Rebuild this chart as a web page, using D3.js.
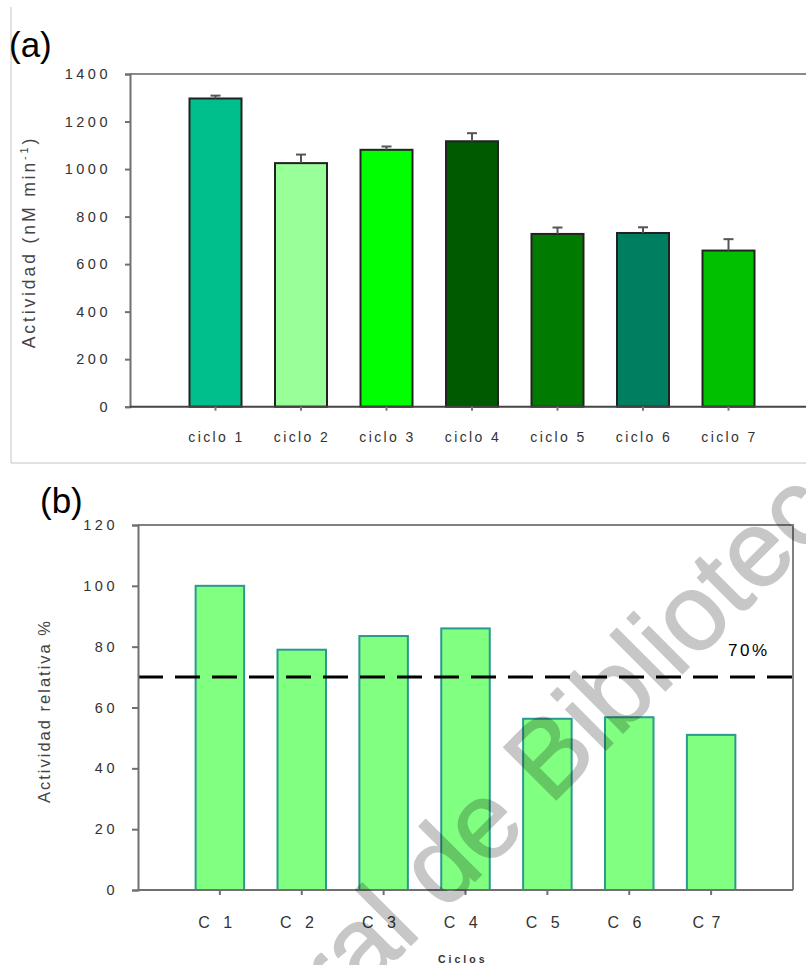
<!DOCTYPE html>
<html>
<head>
<meta charset="utf-8">
<script src="https://cdn.jsdelivr.net/npm/d3@7"></script>
<style>
  body { margin: 0; background: #fff; }
  svg { display: block; font-family: "Liberation Sans", Arial, sans-serif; }
</style>
</head>
<body>
<svg id="chart" width="806" height="965"></svg>
<script>
// Panel (a): absolute activity per reuse cycle, with standard deviation
const cycleLabels = ["ciclo 1", "ciclo 2", "ciclo 3", "ciclo 4", "ciclo 5", "ciclo 6", "ciclo 7"];
const activity = [1297, 1025, 1081, 1117, 727, 731, 657];
const activityErr = [12, 36, 14, 34, 27, 24, 48];
const barColors = ["#00bf8c", "#99ff99", "#00ff00", "#005a00", "#007a00", "#007f60", "#00c000"];
const activityTicks = [0, 200, 400, 600, 800, 1000, 1200, 1400];

// Panel (b): activity relative to the first cycle
const cycleShort = ["C  1", "C  2", "C  3", "C  4", "C  5", "C  6", "C 7"];
const relative = [100, 79, 83.5, 86, 56.3, 56.8, 51];
const relativeTicks = [0, 20, 40, 60, 80, 100, 120];
const threshold = 70;

const svg = d3.select("#chart");

// ---------- panel (a) ----------
const frameA = svg.append("g");
frameA.append("line").attr("x1", 11).attr("x2", 11).attr("y1", 7).attr("y2", 463)
  .attr("stroke", "#c4c4c4").attr("stroke-width", 1);
frameA.append("line").attr("x1", 11).attr("x2", 806).attr("y1", 463).attr("y2", 463)
  .attr("stroke", "#c4c4c4").attr("stroke-width", 1);

svg.append("text").attr("x", 9).attr("y", 57).attr("font-size", 35).attr("fill", "#000").text("(a)");

const xA = d3.scaleLinear().domain([0, 8]).range([130, 814]);
const yA = d3.scaleLinear().domain([0, 1400]).range([406.7, 74]);
const barWA = 52;

const gA = svg.append("g");
// top frame line
gA.append("line").attr("x1", 130).attr("x2", 806).attr("y1", yA(1400)).attr("y2", yA(1400))
  .attr("stroke", "#8a8a8a").attr("stroke-width", 2);

// bars
gA.selectAll("rect.bar").data(activity).join("rect")
  .attr("class", "bar")
  .attr("x", (d, i) => xA(i + 1) - barWA / 2)
  .attr("width", barWA)
  .attr("y", d => yA(d))
  .attr("height", d => yA(0) - yA(d))
  .attr("fill", (d, i) => barColors[i])
  .attr("stroke", "#222").attr("stroke-width", 2);

// error bars (upper half only)
const errG = gA.selectAll("g.err").data(activity).join("g").attr("class", "err");
errG.append("line")
  .attr("x1", (d, i) => xA(i + 1)).attr("x2", (d, i) => xA(i + 1))
  .attr("y1", d => yA(d)).attr("y2", (d, i) => yA(d + activityErr[i]))
  .attr("stroke", "#555").attr("stroke-width", 2);
errG.append("line")
  .attr("x1", (d, i) => xA(i + 1) - 5).attr("x2", (d, i) => xA(i + 1) + 5)
  .attr("y1", (d, i) => yA(d + activityErr[i])).attr("y2", (d, i) => yA(d + activityErr[i]))
  .attr("stroke", "#555").attr("stroke-width", 2);

// y axis
const axA = gA.append("g").attr("transform", "translate(130,0)")
  .call(d3.axisLeft(yA).tickValues(activityTicks).tickSize(5).tickPadding(14).tickFormat(d3.format("d")));
axA.select(".domain").attr("stroke", "#707070").attr("stroke-width", 2);
axA.selectAll(".tick line").attr("stroke", "#707070").attr("stroke-width", 2);
axA.selectAll(".tick text").attr("font-size", 14.5).attr("fill", "#333")
  .attr("letter-spacing", "3.5px").attr("font-family", "'Liberation Sans', Arial, sans-serif");

// x axis
gA.append("line").attr("x1", 130).attr("x2", 806).attr("y1", yA(0)).attr("y2", yA(0))
  .attr("stroke", "#444").attr("stroke-width", 2);
gA.selectAll("line.xtick").data(cycleLabels).join("line").attr("class", "xtick")
  .attr("x1", (d, i) => xA(i + 1)).attr("x2", (d, i) => xA(i + 1))
  .attr("y1", yA(0)).attr("y2", yA(0) + 4)
  .attr("stroke", "#777").attr("stroke-width", 2);
gA.selectAll("text.xlab").data(cycleLabels).join("text").attr("class", "xlab")
  .attr("x", (d, i) => xA(i + 1) + 1).attr("y", 442)
  .attr("text-anchor", "middle").attr("font-size", 14).attr("fill", "#333")
  .attr("letter-spacing", "2.4px").text(d => d);

// y title
const titleA = svg.append("text")
  .attr("transform", "translate(35,242) rotate(-90)")
  .attr("text-anchor", "middle").attr("font-size", 17.5).attr("fill", "#444")
  .attr("letter-spacing", "2.9px");
titleA.append("tspan").text("Actividad (nM min");
titleA.append("tspan").attr("dy", -7).attr("font-size", 11).text("-1");
titleA.append("tspan").attr("dy", 7).text(")");

// ---------- panel (b) ----------
svg.append("text").attr("x", 40).attr("y", 513).attr("font-size", 35).attr("fill", "#000").text("(b)");

const xB = d3.scaleLinear().domain([0, 8]).range([138, 793]);
const yB = d3.scaleLinear().domain([0, 120]).range([890, 525]);
const barWB = 48.5;

const gB = svg.append("g");

gB.selectAll("rect.bar").data(relative).join("rect")
  .attr("class", "bar")
  .attr("x", (d, i) => xB(i + 1) - barWB / 2)
  .attr("width", barWB)
  .attr("y", d => yB(d))
  .attr("height", d => yB(0) - yB(d))
  .attr("fill", "#80ff80")
  .attr("stroke", "#2a9a8e").attr("stroke-width", 2);

// plot frame: top and right
gB.append("path")
  .attr("d", `M138,${yB(120)}H793V${yB(0)}`)
  .attr("fill", "none").attr("stroke", "#808080").attr("stroke-width", 2);

// threshold line
gB.append("line").attr("x1", 138).attr("x2", 793).attr("y1", yB(threshold)).attr("y2", yB(threshold))
  .attr("stroke", "#000").attr("stroke-width", 3).attr("stroke-dasharray", "25,12");
gB.append("text").attr("x", 728).attr("y", 656).attr("font-size", 17).attr("fill", "#000")
  .attr("letter-spacing", "2.5px").text(threshold + "%");

const axB = gB.append("g").attr("transform", "translate(138,0)")
  .call(d3.axisLeft(yB).tickValues(relativeTicks).tickSize(6).tickPadding(14).tickFormat(d3.format("d")));
axB.select(".domain").attr("stroke", "#707070").attr("stroke-width", 2);
axB.selectAll(".tick line").attr("stroke", "#707070").attr("stroke-width", 2);
axB.selectAll(".tick text").attr("font-size", 14.5).attr("fill", "#333")
  .attr("letter-spacing", "3.5px").attr("font-family", "'Liberation Sans', Arial, sans-serif");

gB.append("line").attr("x1", 138).attr("x2", 793).attr("y1", yB(0)).attr("y2", yB(0))
  .attr("stroke", "#707070").attr("stroke-width", 2);
gB.selectAll("line.xtick").data(cycleShort).join("line").attr("class", "xtick")
  .attr("x1", (d, i) => xB(i + 1)).attr("x2", (d, i) => xB(i + 1))
  .attr("y1", yB(0)).attr("y2", yB(0) + 5)
  .attr("stroke", "#707070").attr("stroke-width", 2);
gB.selectAll("text.xlab").data(cycleShort).join("text").attr("class", "xlab")
  .attr("x", (d, i) => xB(i + 1) - 4).attr("y", 928)
  .attr("text-anchor", "middle").attr("font-size", 16).attr("fill", "#333")
  .attr("letter-spacing", "1.5px").style("white-space", "pre").text(d => d);

svg.append("text").attr("x", 438).attr("y", 963).attr("font-size", 10.5).attr("font-weight", "bold")
  .attr("fill", "#333").attr("letter-spacing", "3px").text("Ciclos");

svg.append("text")
  .attr("transform", "translate(50,711) rotate(-90)")
  .attr("text-anchor", "middle").attr("font-size", 16.5).attr("fill", "#444")
  .attr("letter-spacing", "2px").text("Actividad relativa %");

// ---------- watermark ----------
// drawn opaque inside a translucent group so the thin outline doesn't double up
const wm = svg.append("g").attr("opacity", 0.215)
  .append("g").attr("transform", "translate(550,806) rotate(-45)")
  .attr("fill", "#000").attr("stroke", "#000").attr("stroke-width", 1.5)
  .attr("stroke-linejoin", "round").attr("font-size", 108);
wm.append("text").attr("text-anchor", "end").style("white-space", "pre").text("Dirección General de ");
wm.append("text").attr("text-anchor", "start").text("Bibliotecas");
</script>
</body>
</html>
